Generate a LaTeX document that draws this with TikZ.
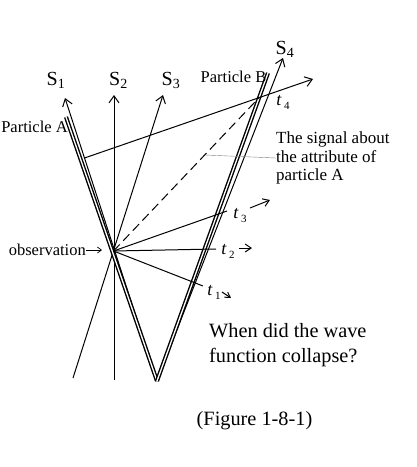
\documentclass[tikz,border=0pt]{standalone}
\usepackage{fontspec}
\setmainfont{Liberation Serif}
\usetikzlibrary{arrows.meta,calc}

\newcommand{\tsub}[1]{\textit{t}\hspace{2.5pt}\raisebox{-4pt}{\fontsize{11}{11}\selectfont #1}}

\begin{document}
\begin{tikzpicture}[x=1pt,y=-1pt,
  axis/.style={line width=1pt,-{Straight Barb[length=7pt,width=10pt,line width=1pt]}},
  world/.style={double,double distance=1.3pt,line width=1.4pt},
  tline/.style={line width=1pt},
  tarrow/.style={line width=1pt,-{Straight Barb[length=6pt,width=8pt,line width=1pt]}},
  lbl/.style={inner sep=0pt,font=\fontsize{16.5}{19}\selectfont},
  slbl/.style={inner sep=0pt,font=\fontsize{20}{20}\selectfont},
  tlbl/.style={inner sep=0pt,font=\fontsize{18}{18}\selectfont},
  big/.style={inner sep=0pt,font=\fontsize{20.3}{24.5}\selectfont}]
  \useasboundingbox (0,0) rectangle (417,467);
  % events: observation of A and the common source
  \coordinate (O) at (113.5,251);
  \coordinate (V) at (157,381);
  % time axes S1..S4
  \coordinate (S1) at (65,98);
  \coordinate (S2) at (114,95);
  \coordinate (S3) at (163,95);
  \coordinate (S4) at (283,58);
  \coordinate (S2b) at (114,380);
  \coordinate (S3b) at (73,378);
  \draw[axis] (V) -- (S1);
  \draw[axis] (S2b) -- (S2);
  \draw[axis] (S3b) -- (S3);
  \draw[axis] (V) -- (S4);
  % world lines of the two particles
  \coordinate (Atop) at (66,117);
  \coordinate (Btop) at (268,73);
  \draw[world] (V) -- (Atop);
  \draw[world] (V) -- (Btop);
  % the signal sent from A
  \coordinate (sigA) at (84.5,158);
  \coordinate (sigB) at (313,79);
  \draw[axis] (sigA) -- (sigB);
  \coordinate (X) at (intersection of sigA--sigB and V--Btop);
  \draw[line width=1pt,dash pattern=on 9pt off 5pt] (O) -- (X);
  % simultaneity lines t1..t3
  \foreach \n/\ex/\ey in {1/203/286, 2/216/249, 3/227/211}{%
    \draw[tline] (O) -- (\ex,\ey) coordinate (e\n);
  }
  % labels
  \node[slbl] (lblS1) at (56,80) {S\textsubscript{1}};
  \node[slbl] (lblS2) at (118.5,80) {S\textsubscript{2}};
  \node[slbl] (lblS3) at (171,80) {S\textsubscript{3}};
  \node[slbl] (lblS4) at (285,49) {S\textsubscript{4}};
  \node[lbl] (partA) at (34.5,127) {Particle A};
  \node[lbl] (partB) at (233.5,77) {Particle B};
  \node[tlbl] (t4) at (283,102) {\tsub{4}};
  \node[tlbl] (t3) at (240,215) {\tsub{3}};
  \node[tlbl] (t2) at (228,251) {\tsub{2}};
  \node[tlbl] (t1) at (214,292) {\tsub{1}};
  % little arrows after the t labels
  \coordinate (a3s) at (250,208);
  \coordinate (a3e) at (270,200);
  \coordinate (a2s) at (239,248);
  \coordinate (a2e) at (252,248);
  \coordinate (a1s) at (222,292);
  \coordinate (a1e) at (231,298);
  \draw[tarrow] (a3s) -- (a3e);
  \draw[tarrow] (a2s) -- (a2e);
  \draw[line width=1pt,-{Straight Barb[length=5pt,width=6pt,line width=1pt]}] (a1s) -- (a1e);
  % observation pointer
  \node[lbl,anchor=east] (obs) at (86,250) {observation};
  \coordinate (obsTip) at (102,250);
  \draw[line width=0.7pt,-{Straight Barb[length=4pt,width=6pt,line width=0.7pt]}] (obs.east) -- (obsTip);
  % note on the dashed signal
  \node[lbl,anchor=west,align=left,font=\fontsize{17}{18.5}\selectfont] (signal) at (276,158) {The signal about\\the attribute of\\particle A};
  \coordinate (g) at ($(O)!0.626!(X)$);
  \draw[gray,line width=0.4pt] (g) -- (signal.west);
  % question and caption
  \node[big,anchor=west,align=left] (question) at (209,345) {When did the wave\\function collapse?};
  \node[big] (caption) at (254.5,421) {(Figure 1-8-1)};
\end{tikzpicture}
\end{document}
